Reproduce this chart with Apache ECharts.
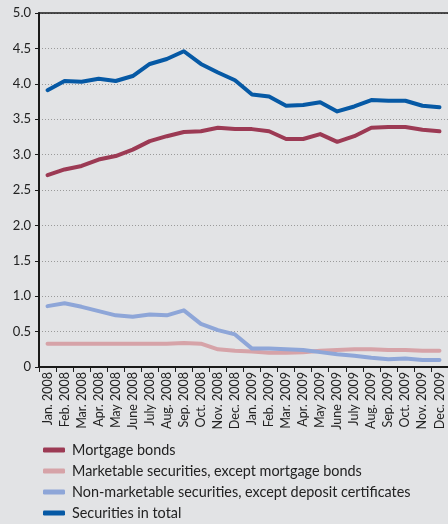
<!DOCTYPE html>
<html>
<head>
<meta charset="utf-8">
<script src="https://cdn.jsdelivr.net/npm/echarts@6/dist/echarts.min.js"></script>
<style>
  html, body { margin: 0; padding: 0; background: #e2e3e5; }
  #chart { width: 448px; height: 524px; }
</style>
</head>
<body>
<div id="chart"></div>
<script>
// Monthly categories, Jan. 2008 – Dec. 2009
const months = [
  'Jan. 2008', 'Feb. 2008', 'Mar. 2008', 'Apr. 2008', 'May 2008', 'June 2008',
  'July 2008', 'Aug. 2008', 'Sep. 2008', 'Oct. 2008', 'Nov. 2008', 'Dec. 2008',
  'Jan. 2009', 'Feb. 2009', 'Mar. 2009', 'Apr. 2009', 'May 2009', 'June 2009',
  'July 2009', 'Aug. 2009', 'Sep. 2009', 'Oct. 2009', 'Nov. 2009', 'Dec. 2009'
];

const mortgageBonds = [
  2.71, 2.79, 2.84, 2.93, 2.98, 3.07, 3.19, 3.26, 3.32, 3.33, 3.38, 3.36,
  3.36, 3.33, 3.22, 3.22, 3.29, 3.18, 3.26, 3.38, 3.39, 3.39, 3.35, 3.33
];

const marketableSecurities = [
  0.33, 0.33, 0.33, 0.33, 0.33, 0.33, 0.33, 0.33, 0.34, 0.33, 0.25, 0.23,
  0.22, 0.20, 0.20, 0.21, 0.23, 0.24, 0.25, 0.25, 0.24, 0.24, 0.23, 0.23
];

const nonMarketableSecurities = [
  0.86, 0.90, 0.85, 0.79, 0.73, 0.71, 0.74, 0.73, 0.80, 0.61, 0.52, 0.46,
  0.26, 0.26, 0.25, 0.24, 0.21, 0.18, 0.16, 0.13, 0.11, 0.12, 0.10, 0.10
];

const securitiesTotal = [
  3.91, 4.04, 4.03, 4.07, 4.04, 4.11, 4.28, 4.35, 4.46, 4.28, 4.16, 4.05,
  3.85, 3.82, 3.69, 3.70, 3.74, 3.61, 3.68, 3.77, 3.76, 3.76, 3.69, 3.67
];

const seriesNames = [
  'Mortgage bonds',
  'Marketable securities, except mortgage bonds',
  'Non-marketable securities, except deposit certificates',
  'Securities in total'
];

const yMin = 0, yMax = 5, yStep = 0.5;

const colors = ['#9c3a54', '#d6a3a8', '#8ea6d8', '#0659a5'];
const font = 'Lato, "Noto Sans", sans-serif';

function lineSeries(name, data, color) {
  return {
    name, type: 'line', data,
    showSymbol: false, symbol: 'none',
    lineStyle: { color, width: 4, cap: 'round', join: 'round' },
    itemStyle: { color },
    animation: false
  };
}

const chart = echarts.init(document.getElementById('chart'));
chart.setOption({
  backgroundColor: '#e2e3e5',
  textStyle: { fontFamily: font },
  grid: { left: 39, right: 0, top: 13, bottom: 157, containLabel: false },
  legend: {
    orient: 'vertical',
    left: 43, top: 443, height: 120, padding: 0,
    itemWidth: 22, itemHeight: 5, itemGap: 7,
    icon: 'roundRect',
    textStyle: { fontFamily: font, fontSize: 14.4, color: '#222', padding: [0, 0, 0, 2] },
    data: seriesNames
  },
  xAxis: [{
    type: 'category', data: months, position: 'bottom', boundaryGap: true,
    axisLine: { lineStyle: { color: '#1a1a1a', width: 2 } },
    axisTick: { show: true, length: 5, lineStyle: { color: '#1a1a1a', width: 1 } },
    axisLabel: { rotate: 90, fontSize: 12.5, color: '#222', margin: 5, interval: 0, fontFamily: font }
  }, {
    type: 'category', data: months, position: 'top', boundaryGap: true,
    axisLine: { show: true, lineStyle: { color: '#1a1a1a', width: 1.5 } },
    axisTick: { show: false }, axisLabel: { show: false }
  }],
  yAxis: {
    type: 'value', min: yMin, max: yMax, interval: yStep,
    axisLine: { show: true, lineStyle: { color: '#1a1a1a', width: 2 } },
    axisTick: { show: true, length: 4, lineStyle: { color: '#1a1a1a' } },
    axisLabel: {
      fontSize: 13, color: '#222', margin: 8, fontFamily: font,
      formatter: v => (v === 0 ? '0' : v.toFixed(1))
    },
    splitLine: { show: true, lineStyle: { color: '#9a9a9a', type: [1, 2], width: 1 } }
  },
  series: [
    lineSeries(seriesNames[0], mortgageBonds, colors[0]),
    lineSeries(seriesNames[1], marketableSecurities, colors[1]),
    lineSeries(seriesNames[2], nonMarketableSecurities, colors[2]),
    lineSeries(seriesNames[3], securitiesTotal, colors[3])
  ]
});
</script>
</body>
</html>
